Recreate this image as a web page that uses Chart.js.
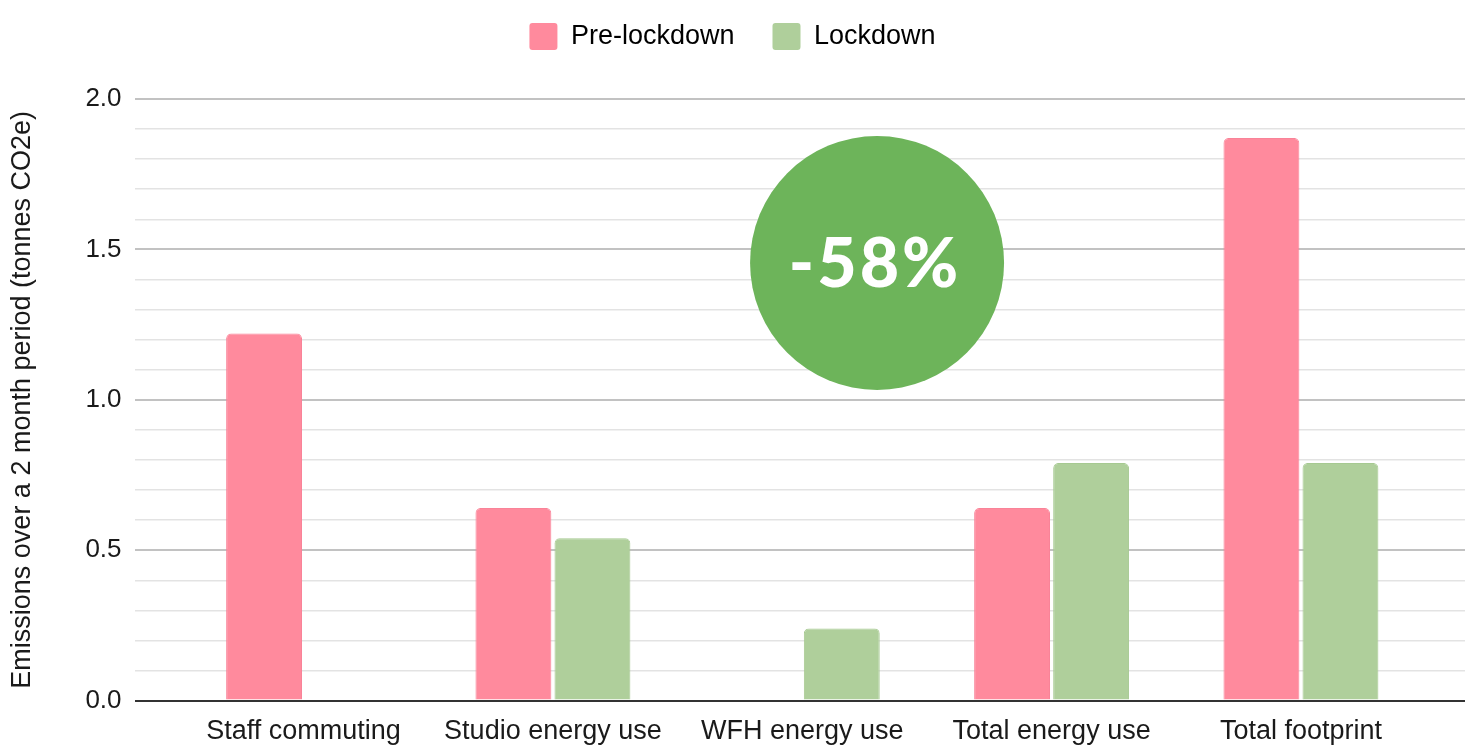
<!DOCTYPE html>
<html>
<head>
<meta charset="utf-8">
<title>Emissions: pre-lockdown vs lockdown</title>
<script src="https://cdn.jsdelivr.net/npm/chart.js@4.4.1/dist/chart.umd.min.js"></script>
<style>
  html, body { margin: 0; padding: 0; background: #ffffff; overflow: hidden; }
  #wrap { width: 1472px; height: 747px; position: relative; }
</style>
</head>
<body>
<div id="wrap"><canvas id="chart"></canvas></div>
<script>
// Categories and the two series (tonnes CO2e over a 2 month period)
const categories = ['Staff commuting', 'Studio energy use', 'WFH energy use', 'Total energy use', 'Total footprint'];
const preLockdown = [1.22, 0.64, null, 0.64, 1.87];
const lockdown = [null, 0.54, 0.24, 0.79, 0.79];
const seriesNames = ['Pre-lockdown', 'Lockdown'];
const yAxisTitle = 'Emissions over a 2 month period (tonnes CO2e)';
const badgeText = '-58%';

const FONT = "'Liberation Sans', Arial, Helvetica, sans-serif";

// Round green badge with the overall reduction, anchored to the axes
const badgePlugin = {
  id: 'badge',
  afterDatasetsDraw(chart) {
    const { ctx, scales } = chart;
    const cx = scales.x.getPixelForValue(2.3);
    const cy = scales.y.getPixelForValue(1.455);
    const r = 127;
    ctx.save();
    ctx.beginPath();
    ctx.arc(cx, cy, r, 0, Math.PI * 2);
    ctx.fillStyle = '#6db45a';
    ctx.fill();
    ctx.fillStyle = '#ffffff';
    ctx.font = "900 68px Lato, 'Open Sans', sans-serif";
    ctx.letterSpacing = '3px';
    ctx.textAlign = 'center';
    ctx.textBaseline = 'middle';
    ctx.fillText(badgeText, cx - 2, cy + 2);
    ctx.restore();
  }
};

// Extra space between the legend and the plot area
const legendGap = {
  id: 'legendGap',
  beforeInit(chart) {
    const fit = chart.legend.fit;
    chart.legend.fit = function () {
      fit.call(this);
      this.height += 39;
    };
  }
};

const toPoints = arr => arr.map((y, i) => ({ x: i, y }));

new Chart(document.getElementById('chart'), {
  type: 'bar',
  data: {
    datasets: [
      {
        label: seriesNames[0],
        data: toPoints(preLockdown),
        backgroundColor: '#ff8a9d',
        borderColor: '#f98398',
        borderWidth: 1,
        borderRadius: 5,
        borderSkipped: 'start'
      },
      {
        label: seriesNames[1],
        data: toPoints(lockdown),
        backgroundColor: '#afcf9b',
        borderColor: '#a6c991',
        borderWidth: 1,
        borderRadius: 5,
        borderSkipped: 'start'
      }
    ]
  },
  options: {
    responsive: true,
    maintainAspectRatio: false,
    animation: false,
    devicePixelRatio: 1,
    categoryPercentage: 0.634,
    barPercentage: 0.96,
    layout: { padding: { top: -15, right: 7, bottom: -16, left: 0 } },
    plugins: {
      legend: {
        position: 'top',
        align: 'center',
        labels: {
          boxWidth: 28,
          boxHeight: 27,
          padding: 38,
          color: '#1a1a1a',
          font: { family: FONT, size: 27 },
          useBorderRadius: true,
          borderRadius: 3,
          generateLabels(chart) {
            return chart.data.datasets.map((ds, i) => ({
              text: ds.label,
              fillStyle: ds.backgroundColor,
              strokeStyle: ds.backgroundColor,
              lineWidth: 0,
              datasetIndex: i,
              borderRadius: 3
            }));
          }
        }
      },
      tooltip: { enabled: false },
      title: { display: false }
    },
    scales: {
      x: {
        type: 'linear',
        min: -0.678,
        max: 4.658,
        offset: false,
        grid: { display: false, drawTicks: false },
        border: { display: false },
        afterBuildTicks(scale) {
          scale.ticks = categories.map((_, i) => ({ value: i }));
        },
        ticks: {
          autoSkip: false,
          maxRotation: 0,
          padding: 15,
          color: '#1a1a1a',
          font: { family: FONT, size: 27 },
          callback: v => categories[v] ?? ''
        }
      },
      y: {
        min: 0,
        max: 2,
        border: { display: false },
        title: {
          display: true,
          text: yAxisTitle,
          color: '#1a1a1a',
          font: { family: FONT, size: 27 },
          padding: { top: 6, bottom: 34 }
        },
        grid: {
          drawTicks: false,
          color: ctx => {
            const t = Math.round(ctx.tick.value * 10);
            if (t === 0) return '#333333';
            return t % 5 === 0 ? '#c2c2c2' : '#e3e3e3';
          },
          lineWidth: ctx => {
            const t = Math.round(ctx.tick.value * 10);
            return t % 5 === 0 ? 2 : 1.5;
          }
        },
        ticks: {
          stepSize: 0.1,
          autoSkip: false,
          padding: 13,
          color: '#1a1a1a',
          font: { family: FONT, size: 26 },
          callback: v => (Math.round(v * 10) % 5 === 0 ? v.toFixed(1) : '')
        }
      }
    }
  },
  plugins: [badgePlugin, legendGap]
});
</script>
</body>
</html>
